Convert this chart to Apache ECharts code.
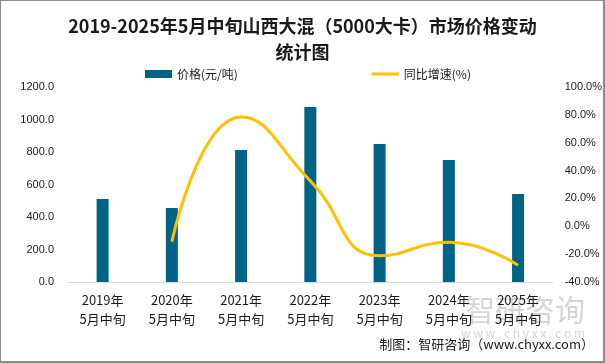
<!DOCTYPE html>
<html><head><meta charset="utf-8">
<script src="https://cdn.jsdelivr.net/npm/echarts@6/dist/echarts.min.js"></script>
<style>html,body{margin:0;padding:0;background:#fff}#wrap{position:relative;width:605px;height:363px}#c{width:605px;height:363px}#b{position:absolute;left:0;top:0;width:605px;height:363px;box-sizing:border-box;border:1px solid #8c8c8c;border-right-width:2px;border-bottom-width:2px;pointer-events:none}</style>
</head><body><div id="wrap"><div id="c"></div><div id="b"></div></div>
<script>
const categories = ['2019年\n5月中旬','2020年\n5月中旬','2021年\n5月中旬','2022年\n5月中旬','2023年\n5月中旬','2024年\n5月中旬','2025年\n5月中旬'];
const prices = [511, 455, 812, 1077, 849, 751, 541];
const growth = [null, -11.0, 78.5, 32.6, -21.2, -11.5, -28.0];
const leftTicks = {min: 0, max: 1200, interval: 200};
const rightTicks = {min: -40, max: 100, interval: 20};

const chart = echarts.init(document.getElementById('c'), null, {renderer: 'canvas'});
const FONT = '"Noto Sans CJK SC", "Microsoft YaHei", sans-serif';
chart.setOption({
  animation: false,
  title: {
    text: '2019-2025年5月中旬山西大混（5000大卡）市场价格变动\n统计图',
    left: 'center', top: 8,
    textStyle: {fontSize: 18, fontWeight: 'bold', color: '#1a1a1a', fontFamily: FONT, lineHeight: 26}
  },
  legend: {
    top: 63, left: 140, itemGap: 134, itemWidth: 27, itemHeight: 8,
    textStyle: {fontSize: 12, color: '#1a1a1a', fontFamily: FONT},
    data: [{name: '价格(元/吨)', icon: 'rect'},
           {name: '同比增速(%)', icon: 'path://M0,0L27,0L27,3L0,3Z', itemStyle: {color: '#FFC000'}}]
  },
  grid: {left: 68, right: 52, top: 87, bottom: 81},
  xAxis: {
    type: 'category', data: categories,
    axisLine: {lineStyle: {color: '#d9d9d9'}},
    axisTick: {show: false},
    axisLabel: {fontSize: 13, color: '#1a1a1a', fontFamily: FONT, lineHeight: 19, margin: 9, interval: 0}
  },
  yAxis: [
    {type: 'value', min: leftTicks.min, max: leftTicks.max, interval: leftTicks.interval,
     splitLine: {show: false}, axisLine: {show: false}, axisTick: {show: false},
     axisLabel: {fontSize: 11, color: '#1a1a1a', fontFamily: 'Liberation Sans, Arial', margin: 14,
       formatter: v => v.toFixed(1)}},
    {type: 'value', min: rightTicks.min, max: rightTicks.max, interval: rightTicks.interval,
     splitLine: {show: false}, axisLine: {show: false}, axisTick: {show: false},
     axisLabel: {fontSize: 11, color: '#1a1a1a', fontFamily: 'Liberation Sans, Arial', margin: 12,
       formatter: v => v.toFixed(1) + '%'}}
  ],
  series: [
    {name: '价格(元/吨)', type: 'bar', data: prices, barWidth: 12, itemStyle: {color: '#006285'}},
    {name: '同比增速(%)', type: 'line', yAxisIndex: 1, data: growth, smooth: 0.5, symbol: 'none',
     connectNulls: false, lineStyle: {color: '#FFC000', width: 3}, itemStyle: {color: '#FFC000'}}
  ],
  graphic: [
    {type: 'text', right: 20, top: 295, z: -1, style: {text: '智研咨询', fontSize: 30, fill: 'rgba(150,150,150,0.4)', fontFamily: FONT}},
    {type: 'text', right: 20, top: 327, z: -1, style: {text: 'w w w . c h y x x . c o m', fontSize: 12, fill: 'rgba(150,150,150,0.4)', fontFamily: FONT}},
    {type: 'text', right: 11, top: 338, style: {text: '制图：智研咨询（www.chyxx.com）', fontSize: 13, fill: '#1a1a1a', fontFamily: FONT}}
  ]
});
</script></body></html>
